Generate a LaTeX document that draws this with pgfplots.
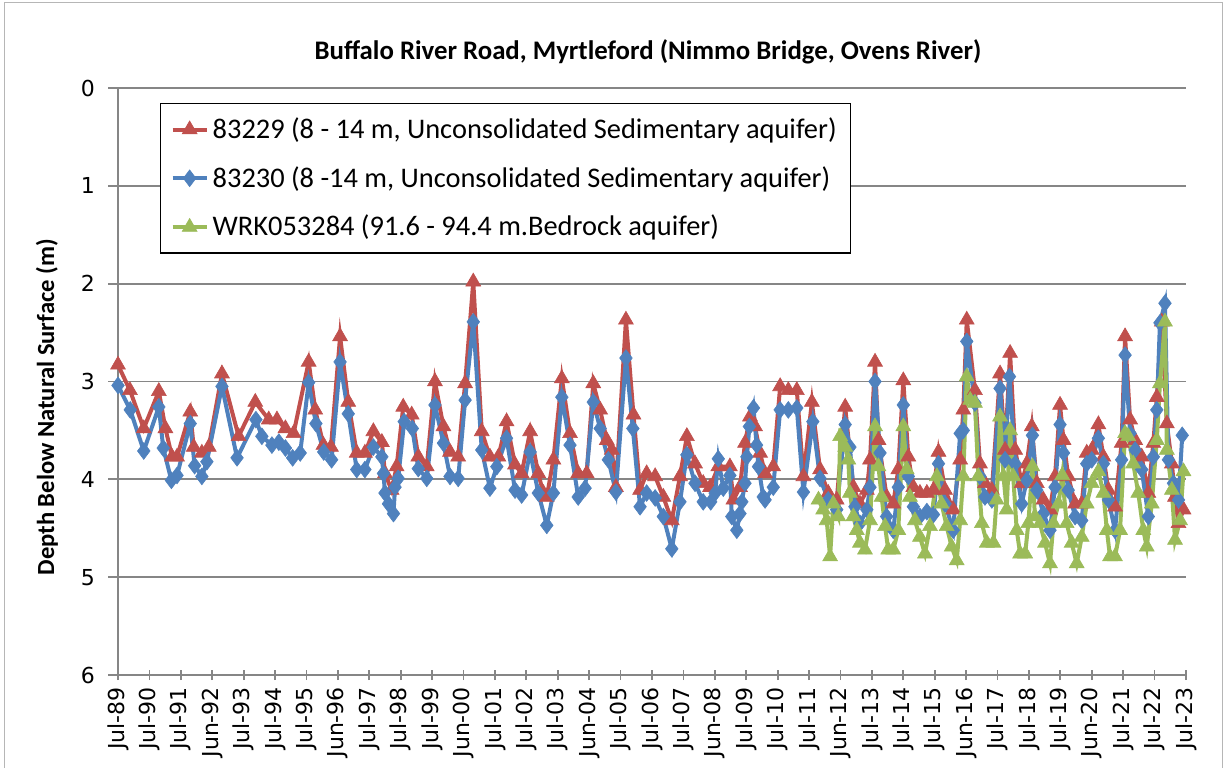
\documentclass[border=0pt]{standalone}
\usepackage{pgfplots}
\pgfplotsset{compat=1.18}
\usepackage{fontspec}
\setmainfont{Carlito}
\newfontfamily\tickfont{DejaVu Sans}
\definecolor{cred}{RGB}{192,80,77}
\definecolor{cblue}{RGB}{79,129,189}
\definecolor{cgreen}{RGB}{155,187,89}
\definecolor{cgrid}{RGB}{134,134,134}
\begin{document}
\begin{tikzpicture}
\useasboundingbox (-59pt,-46pt) rectangle (556.5pt,337.5pt);
\draw[cgrid!60, line width=0.5pt] (-56.5pt,-60pt) rectangle (552pt,336pt);
\node[font=\bfseries\fontsize{13.4}{15}\selectfont] at (265pt,311.5pt) {Buffalo River Road, Myrtleford (Nimmo Bridge, Ovens River)};
\begin{axis}[
  at={(0pt,0pt)}, anchor=south west,
  width=534pt, height=293.5pt, scale only axis,
  xmin=1989.5, xmax=2023.5, ymin=0, ymax=6, y dir=reverse,
  axis x line=bottom, axis y line=left,
  axis line style={cgrid, line width=0.9pt, -},
  ymajorgrids, grid style={cgrid, line width=0.9pt},
  ytick={0,1,2,3,4,5,6},
  xtick={1989.5,1990.5,...,2023.5},
  xticklabels={Jul-89,Jul-90,Jul-91,Jun-92,Jul-93,Jul-94,Jul-95,Jun-96,Jul-97,Jul-98,Jul-99,Jun-00,Jul-01,Jul-02,Jul-03,Jun-04,Jul-05,Jul-06,Jul-07,Jun-08,Jul-09,Jul-10,Jul-11,Jun-12,Jul-13,Jul-14,Jul-15,Jun-16,Jul-17,Jul-18,Jul-19,Jun-20,Jul-21,Jul-22,Jul-23},
  x tick label style={rotate=90, anchor=east, font=\tickfont\fontsize{11}{13}\selectfont},
  y tick label style={font=\tickfont\fontsize{11}{13}\selectfont, xshift=-3pt},
  /pgf/number format/assume math mode=true,
  tick style={cgrid, line width=0.9pt},
  xtick align=center, ytick align=outside,
  major tick length=5pt,
  ylabel={\bfseries Depth Below Natural Surface (m)},
  ylabel style={at={(axis description cs:-0.0665,0.456)}, anchor=center, font=\fontsize{12.3}{14}\selectfont},
  legend style={at={(axis description cs:0.0393,0.9744)}, anchor=north west, draw=black, line width=0.6pt,
    font=\fontsize{14.2}{17}\selectfont, row sep=8.5pt, inner sep=5pt},
  legend cell align=left,
  clip=false,
]
\addplot[cred, line width=2pt, mark=triangle*, mark size=4.3pt, mark options={solid, fill=cred, line width=0.3pt}] table {
1989.50 2.83
1989.88 3.09
1990.32 3.48
1990.80 3.10
1991.01 3.48
1991.22 3.77
1991.38 3.77
1991.80 3.31
1991.91 3.67
1992.17 3.73
1992.39 3.67
1992.81 2.92
1993.34 3.56
1993.87 3.21
1994.30 3.39
1994.56 3.39
1994.83 3.48
1995.09 3.53
1995.57 2.80
1995.78 3.29
1996.04 3.65
1996.28 3.67
1996.57 2.54
1996.83 3.21
1997.10 3.73
1997.36 3.73
1997.63 3.51
1997.90 3.62
1998.00 3.94
1998.21 4.11
1998.37 3.87
1998.58 3.26
1998.85 3.34
1999.06 3.77
1999.33 3.87
1999.59 3.00
1999.86 3.46
2000.07 3.72
2000.33 3.77
2000.55 3.02
2000.81 1.98
2001.08 3.51
2001.34 3.77
2001.61 3.77
2001.87 3.41
2002.14 3.85
2002.35 3.94
2002.62 3.51
2002.88 3.94
2003.04 4.14
2003.15 4.18
2003.36 3.80
2003.63 2.97
2003.89 3.53
2004.15 3.94
2004.42 3.94
2004.63 3.02
2004.85 3.29
2005.06 3.60
2005.22 3.70
2005.35 4.08
2005.67 2.37
2005.91 3.34
2006.12 4.11
2006.33 3.94
2006.60 3.97
2006.86 4.18
2007.13 4.42
2007.39 3.97
2007.61 3.56
2007.87 3.84
2008.13 4.04
2008.35 4.08
2008.61 3.87
2008.98 3.87
2009.09 4.21
2009.30 4.08
2009.46 3.63
2009.62 3.36
2009.78 3.46
2009.94 3.73
2010.10 3.94
2010.36 3.87
2010.58 3.05
2010.84 3.09
2011.11 3.09
2011.32 3.97
2011.59 3.21
2011.85 3.90
2012.11 4.14
2012.38 4.21
2012.65 3.26
2012.91 4.08
2013.12 4.25
2013.34 4.11
2013.44 3.80
2013.60 2.80
2013.71 3.60
2013.97 4.18
2014.18 4.25
2014.34 3.90
2014.50 2.99
2014.66 3.77
2014.82 4.08
2015.03 4.14
2015.25 4.14
2015.46 4.11
2015.62 3.72
2015.83 4.11
2016.09 4.31
2016.31 3.80
2016.41 3.29
2016.52 2.37
2016.78 3.09
2016.94 3.84
2017.10 4.04
2017.32 4.11
2017.58 2.92
2017.74 3.70
2017.90 2.71
2018.06 3.70
2018.27 4.04
2018.43 3.84
2018.59 3.46
2018.75 4.04
2018.96 4.21
2019.17 4.31
2019.33 3.97
2019.49 3.24
2019.60 3.60
2019.75 3.97
2019.97 4.25
2020.18 4.25
2020.34 3.73
2020.50 3.70
2020.71 3.44
2020.87 3.77
2021.03 4.11
2021.24 4.28
2021.45 3.63
2021.56 2.54
2021.72 3.39
2021.88 3.60
2022.09 3.77
2022.30 4.14
2022.46 3.63
2022.57 3.16
2022.73 2.39
2022.89 3.43
2023.05 3.84
2023.15 4.18
2023.26 4.45
2023.42 4.31
};
\addlegendentry{83229 (8 - 14 m, Unconsolidated Sedimentary aquifer)}
\addplot[cblue, line width=2pt, mark=diamond*, mark size=4.2pt, mark options={solid, fill=cblue, line width=0.3pt}] table {
1989.50 3.04
1989.89 3.29
1990.32 3.71
1990.80 3.26
1990.94 3.68
1991.20 4.01
1991.38 3.96
1991.80 3.43
1991.94 3.86
1992.17 3.97
1992.33 3.82
1992.81 3.05
1993.29 3.78
1993.89 3.39
1994.08 3.56
1994.40 3.65
1994.62 3.62
1994.83 3.68
1995.06 3.78
1995.30 3.73
1995.57 3.01
1995.80 3.43
1996.05 3.72
1996.30 3.80
1996.57 2.80
1996.83 3.33
1997.10 3.90
1997.36 3.90
1997.63 3.67
1997.90 3.77
1997.95 3.94
1998.00 4.14
1998.11 4.25
1998.27 4.35
1998.32 4.08
1998.42 3.99
1998.61 3.41
1998.87 3.48
1999.06 3.89
1999.33 3.99
1999.59 3.24
1999.86 3.63
2000.07 3.97
2000.33 3.99
2000.55 3.19
2000.81 2.39
2001.08 3.70
2001.34 4.09
2001.56 3.87
2001.87 3.58
2002.14 4.11
2002.35 4.16
2002.62 3.72
2002.88 4.14
2003.15 4.47
2003.36 4.14
2003.63 3.16
2003.89 3.65
2004.15 4.18
2004.37 4.09
2004.63 3.21
2004.85 3.48
2005.11 3.80
2005.35 4.13
2005.67 2.76
2005.89 3.48
2006.12 4.28
2006.33 4.14
2006.60 4.19
2006.86 4.38
2007.13 4.71
2007.39 4.23
2007.61 3.75
2007.87 4.04
2008.13 4.23
2008.37 4.23
2008.51 4.14
2008.61 3.79
2008.77 4.09
2008.98 3.96
2009.04 4.38
2009.20 4.52
2009.30 4.35
2009.36 4.23
2009.46 4.04
2009.52 3.77
2009.60 3.46
2009.73 3.27
2009.83 3.65
2009.89 3.87
2010.04 4.18
2010.10 4.21
2010.36 4.08
2010.58 3.29
2010.84 3.29
2011.11 3.27
2011.32 4.13
2011.62 3.41
2011.85 3.99
2012.11 4.21
2012.38 4.31
2012.65 3.44
2012.80 3.67
2012.96 4.28
2013.12 4.45
2013.34 4.31
2013.44 4.08
2013.60 3.00
2013.76 3.73
2013.97 4.38
2014.18 4.52
2014.34 4.08
2014.50 3.24
2014.66 3.97
2014.82 4.28
2015.03 4.38
2015.25 4.33
2015.46 4.36
2015.62 3.84
2015.83 4.25
2016.09 4.52
2016.31 3.53
2016.41 3.50
2016.52 2.59
2016.78 3.22
2016.94 3.97
2017.10 4.18
2017.32 4.21
2017.58 3.07
2017.74 3.80
2017.88 2.95
2018.06 3.84
2018.27 4.25
2018.43 4.01
2018.61 3.55
2018.75 4.11
2018.96 4.35
2019.17 4.52
2019.33 4.08
2019.49 3.44
2019.60 3.73
2019.75 4.11
2019.97 4.38
2020.18 4.42
2020.34 3.84
2020.50 3.80
2020.71 3.58
2020.87 3.84
2021.03 4.21
2021.24 4.52
2021.45 3.80
2021.56 2.73
2021.72 3.53
2021.88 3.70
2022.09 3.90
2022.30 4.38
2022.46 3.77
2022.57 3.29
2022.67 2.40
2022.83 2.20
2022.94 3.80
2023.10 4.04
2023.26 4.21
2023.38 3.55
};
\addlegendentry{83230 (8 -14 m, Unconsolidated Sedimentary aquifer)}
\addplot[cgreen, line width=2pt, mark=triangle*, mark size=4.3pt, mark options={solid, fill=cgreen, line width=0.3pt}] table {
2011.80 4.21
2011.95 4.31
2012.06 4.42
2012.17 4.79
2012.27 4.25
2012.43 4.38
2012.49 3.56
2012.65 3.67
2012.75 3.80
2012.80 4.14
2012.91 4.38
2013.02 4.52
2013.12 4.65
2013.28 4.72
2013.44 4.42
2013.60 3.46
2013.71 3.87
2013.81 4.18
2013.92 4.48
2014.02 4.72
2014.18 4.72
2014.34 4.52
2014.50 3.46
2014.61 3.90
2014.71 4.18
2014.87 4.42
2015.03 4.59
2015.19 4.76
2015.35 4.48
2015.57 3.97
2015.72 4.25
2015.88 4.48
2016.04 4.69
2016.20 4.83
2016.31 4.42
2016.41 3.97
2016.52 2.95
2016.63 3.19
2016.78 3.22
2016.89 3.97
2017.00 4.45
2017.16 4.65
2017.37 4.65
2017.47 4.21
2017.58 3.36
2017.69 3.97
2017.79 4.31
2017.90 3.50
2018.00 3.97
2018.11 4.52
2018.22 4.76
2018.38 4.76
2018.48 4.45
2018.61 3.87
2018.69 4.38
2018.85 4.45
2019.01 4.65
2019.17 4.86
2019.28 4.45
2019.44 4.25
2019.56 3.96
2019.70 4.45
2019.86 4.65
2020.02 4.86
2020.18 4.59
2020.34 4.25
2020.50 4.04
2020.71 3.92
2020.87 4.14
2020.98 4.52
2021.08 4.79
2021.24 4.79
2021.40 4.52
2021.56 3.53
2021.66 3.56
2021.82 3.84
2021.98 4.14
2022.14 4.52
2022.25 4.69
2022.41 4.25
2022.57 3.60
2022.67 3.02
2022.83 2.39
2022.89 3.70
2023.05 4.11
2023.15 4.62
2023.31 4.42
2023.42 3.92
};
\addlegendentry{WRK053284 (91.6 - 94.4 m.Bedrock aquifer)}
\end{axis}
\end{tikzpicture}
\end{document}
